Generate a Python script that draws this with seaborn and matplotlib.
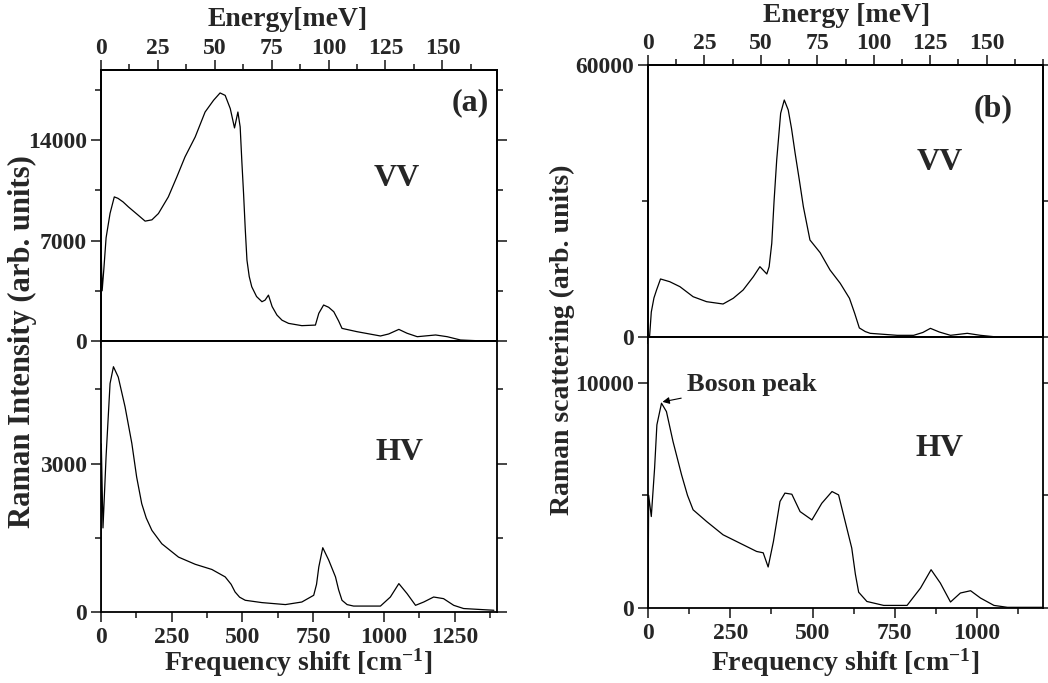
import numpy as np
import pandas as pd
import seaborn as sns
import matplotlib.pyplot as plt
from matplotlib.ticker import MultipleLocator, FixedLocator

# (a) VV
a_vv_shift = [0, 1, 4, 10, 18, 32, 47, 60, 78, 97, 130, 156, 180, 203, 238, 268, 297,
              333, 368, 398, 421, 439, 457, 472, 484, 492, 498, 504, 510, 516, 524,
              533, 550, 569, 580, 592, 605, 622, 640, 663, 710, 758, 770, 787, 805,
              823, 840, 852, 905, 988, 1017, 1053, 1082, 1118, 1183, 1224, 1271,
              1330, 1395]
a_vv_int = [0, 5900, 3500, 5000, 7200, 8900, 10050, 9950, 9700, 9350, 8800, 8360,
            8450, 8890, 10050, 11440, 12840, 14230, 15970, 16790, 17300, 17130,
            16210, 14860, 15970, 14930, 12500, 10290, 7800, 5640, 4500, 3780, 3100,
            2740, 2850, 3200, 2400, 1810, 1450, 1230, 1070, 1110, 1930, 2510, 2350,
            2040, 1400, 880, 650, 350, 490, 810, 540, 300, 420, 300, 70, 20, 0]

# (a) HV
a_hv_shift = [0, 1, 7, 18, 32, 44, 61, 85, 109, 126, 144, 160, 180, 215, 274, 333,
              392, 439, 460, 474, 490, 510, 569, 652, 710, 752, 762, 770, 784, 805,
              829, 840, 852, 870, 893, 988, 1023, 1053, 1082, 1112, 1141, 1176, 1211,
              1247, 1282, 1389]
a_hv_int = [0, 3400, 1700, 3150, 4620, 4960, 4750, 4150, 3410, 2730, 2190, 1900, 1650,
            1380, 1110, 965, 860, 710, 560, 405, 300, 237, 190, 150, 202, 338, 560,
            910, 1300, 1050, 710, 450, 237, 150, 120, 120, 303, 574, 372, 135, 202,
            303, 270, 135, 70, 35]

# (b) VV
b_vv_shift = [0, 5, 10, 18, 26, 38, 66, 97, 137, 178, 228, 259, 289, 320, 340, 361,
              368, 376, 383, 391, 403, 414, 426, 436, 447, 460, 472, 492, 523, 553,
              584, 612, 628, 642, 660, 675, 757, 807, 835, 858, 885, 919, 970, 1010,
              1051, 1200]
b_vv_int = [0, 300, 5500, 8600, 10370, 12800, 12200, 11100, 8890, 7790, 7280, 8540,
            10370, 13300, 15510, 13900, 15500, 20670, 30000, 39050, 49350, 52280,
            50080, 46000, 40520, 34500, 28740, 21400, 18600, 14780, 11840, 8540,
            5200, 2000, 1200, 810, 370, 370, 1000, 1910, 1100, 370, 810, 370, 70, 70]

# (b) HV
b_hv_shift = [0, 2, 10, 20, 27, 41, 56, 76, 102, 120, 137, 178, 228, 279, 330, 350,
              365, 381, 401, 416, 437, 462, 498, 528, 559, 579, 599, 619, 630, 640,
              665, 716, 787, 828, 860, 888, 919, 949, 980, 1010, 1051, 1092, 1200]
b_hv_int = [0, 5000, 4060, 6200, 8130, 9090, 8720, 7390, 5910, 5000, 4360, 3840, 3250,
            2880, 2510, 2450, 1820, 2950, 4730, 5100, 5050, 4280, 3910, 4650, 5170,
            5020, 3840, 2660, 1500, 700, 290, 115, 115, 887, 1700, 1110, 266, 665,
            767, 443, 115, 30, 30]

sns.set_style('ticks')
plt.rcParams['font.family'] = ['Liberation Serif', 'DejaVu Serif']
plt.rcParams['font.weight'] = 'bold'
plt.rcParams['mathtext.default'] = 'regular'
plt.rcParams['axes.linewidth'] = 1.3
plt.rcParams['axes.edgecolor'] = 'black'

W, H = 1048, 683
fig = plt.figure(figsize=(W / 100, H / 100), dpi=100)


def box(x0, y0, x1, y1):
    # pixel box -> figure fraction
    return [x0 / W, 1 - y1 / H, (x1 - x0) / W, (y1 - y0) / H]


ax_a1 = fig.add_axes(box(101, 70, 497, 341))
ax_a2 = fig.add_axes(box(101, 341, 497, 612))
ax_b1 = fig.add_axes(box(648, 65, 1043, 337))
ax_b2 = fig.add_axes(box(648, 337, 1043, 608))

tick_fs = 17
lab_fs = 20

panels = [
    (ax_a1, a_vv_shift, a_vv_int, 1400, 18900, 7000, 3500, True),
    (ax_a2, a_hv_shift, a_hv_int, 1400, 5480, 3000, 1500, False),
    (ax_b1, b_vv_shift, b_vv_int, 1200, 60000, 60000, 30000, True),
    (ax_b2, b_hv_shift, b_hv_int, 1200, 12030, 10000, 5000, False),
]

for ax, xs, ys, xmax, ymax, ymaj, ymin, is_top in panels:
    df = pd.DataFrame({'shift': xs, 'intensity': ys})
    sns.lineplot(data=df, x='shift', y='intensity', ax=ax, color='black',
                 lw=0.9, estimator=None, sort=False)
    ax.set_xlim(0, xmax)
    ax.set_ylim(0, ymax)
    ax.set_xlabel('')
    ax.set_ylabel('')
    ax.xaxis.set_major_locator(MultipleLocator(250))
    ax.xaxis.set_minor_locator(MultipleLocator(125))
    ax.yaxis.set_major_locator(MultipleLocator(ymaj))
    ax.yaxis.set_minor_locator(MultipleLocator(ymin))
    ax.tick_params(axis='y', which='major', direction='out', length=7, width=1.2,
                   labelsize=tick_fs, pad=3, right=True)
    ax.tick_params(axis='y', which='minor', direction='out', length=4, width=1.2,
                   right=True)
    if is_top:
        ax.tick_params(axis='x', which='both', direction='out', length=5, width=1.2,
                       labelbottom=False)
        # energy axis on top
        top = ax.twiny()
        top.set_xlim(0, 174 if xmax == 1400 else 175)
        top.xaxis.set_major_locator(MultipleLocator(25))
        top.xaxis.set_minor_locator(MultipleLocator(12.5))
        top.tick_params(axis='x', which='major', direction='out', length=7, width=1.2,
                        labelsize=tick_fs, pad=1)
        top.tick_params(axis='x', which='minor', direction='out', length=4, width=1.2)
        top.set_xticks([0, 25, 50, 75, 100, 125, 150])
        for lbl in top.get_xticklabels():
            lbl.set_fontweight('bold')
    else:
        ax.tick_params(axis='x', which='major', direction='out', length=7, width=1.2,
                       labelsize=tick_fs, pad=4)
        ax.tick_params(axis='x', which='minor', direction='out', length=4, width=1.2)
        ax.tick_params(axis='x', which='both', top=False)

# only the labelled values shown on the reference
ax_a1.yaxis.set_major_locator(FixedLocator([0, 7000, 14000]))
ax_a2.yaxis.set_major_locator(FixedLocator([0, 3000]))
ax_b2.yaxis.set_major_locator(FixedLocator([0, 10000]))
ax_a2.set_xticks([0, 250, 500, 750, 1000, 1250])
ax_b2.set_xticks([0, 250, 500, 750, 1000])
for ax in (ax_a1, ax_a2, ax_b1, ax_b2):
    for lbl in ax.get_xticklabels() + ax.get_yticklabels():
        lbl.set_fontweight('bold')

# panel annotations
txt = dict(fontsize=23, fontweight='bold', ha='center', va='center')
ax_a1.text(0.932, 0.878, '(a)', transform=ax_a1.transAxes, **txt)
ax_a1.text(0.747, 0.601, 'VV', transform=ax_a1.transAxes, **txt)
ax_a2.text(0.753, 0.590, 'HV', transform=ax_a2.transAxes, **txt)
ax_b1.text(0.873, 0.838, '(b)', transform=ax_b1.transAxes, **txt)
ax_b1.text(0.739, 0.643, 'VV', transform=ax_b1.transAxes, **txt)
ax_b2.text(0.739, 0.587, 'HV', transform=ax_b2.transAxes, **txt)

ax_b2.annotate('Boson peak', xy=(44, 9150), xytext=(316, 9940),
               fontsize=19, fontweight='bold', ha='center', va='center',
               arrowprops=dict(arrowstyle='-|>', color='black', lw=0.8,
                               mutation_scale=10, shrinkA=2, shrinkB=0))

# axis titles
fig.text(298 / W, 1 - 663 / H, 'Frequency shift [cm$^{-1}$]', fontsize=lab_fs,
         fontweight='bold', ha='center', va='center')
fig.text(845 / W, 1 - 663 / H, 'Frequency shift [cm$^{-1}$]', fontsize=lab_fs,
         fontweight='bold', ha='center', va='center')
fig.text(288 / W, 1 - 20 / H, 'Energy[meV]', fontsize=lab_fs,
         fontweight='bold', ha='center', va='center')
fig.text(847 / W, 1 - 15 / H, 'Energy [meV]', fontsize=lab_fs,
         fontweight='bold', ha='center', va='center')
fig.text(22 / W, 1 - 342 / H, 'Raman Intensity (arb. units)', fontsize=22,
         fontweight='bold', ha='center', va='center', rotation=90)
fig.text(562 / W, 1 - 340 / H, 'Raman scattering (arb. units)', fontsize=20,
         fontweight='bold', ha='center', va='center', rotation=90)

fig.savefig('out.png', dpi=100)
